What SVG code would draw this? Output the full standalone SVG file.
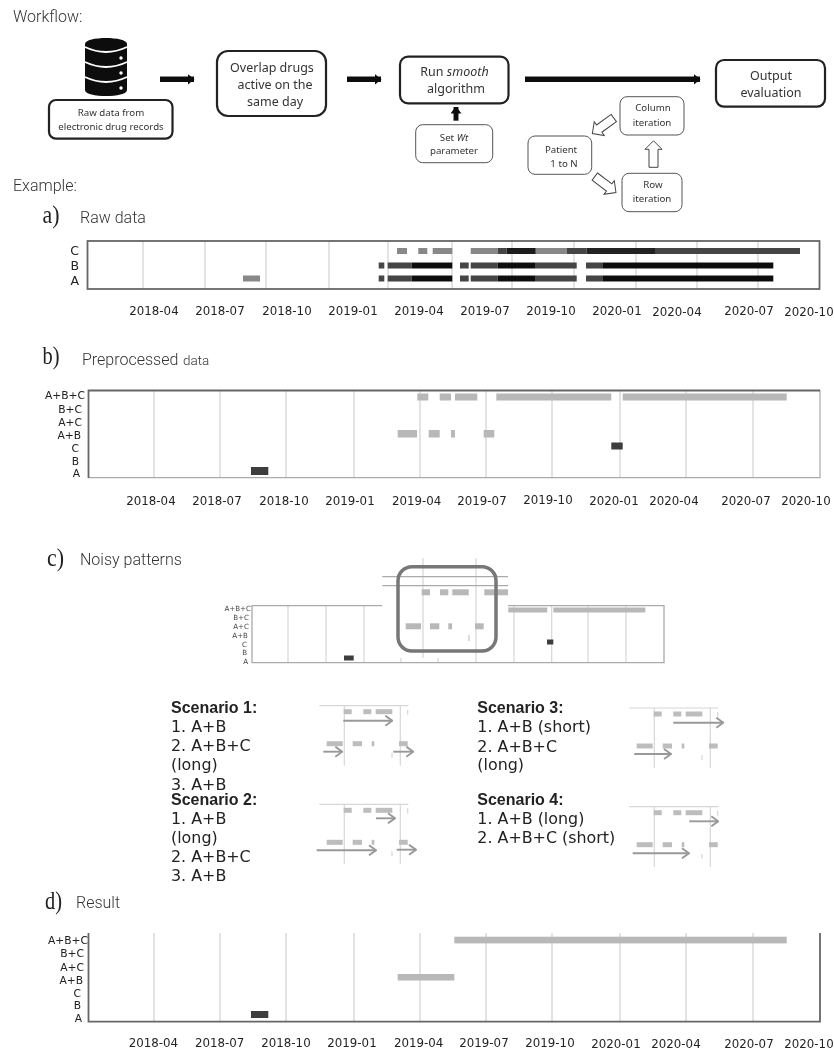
<svg xmlns="http://www.w3.org/2000/svg" xmlns:xlink="http://www.w3.org/1999/xlink" width="834" height="1050" viewBox="0 0 834 1050">
<style>
text{font-family:"DejaVu Sans",sans-serif;fill:#222}
.h{font-family:Roboto,"Liberation Sans",sans-serif;font-weight:300;font-size:16px;fill:#333}
.l{font-family:"Liberation Serif",serif;font-size:25px;fill:#222}
.n{font-family:"Noto Sans",sans-serif;text-anchor:middle;fill:#333}
.n13{font-size:12.5px}.n9{font-size:9.7px}
.box{fill:#fff;stroke:#222;stroke-width:2.2}
.sbox{fill:#fff;stroke:#555;stroke-width:1}
.ha{fill:#fff;stroke:#444;stroke-width:1}
.x{font-size:11.8px;text-anchor:middle}
.y{font-size:10.7px;text-anchor:end}
.ya{font-size:12.5px;text-anchor:end}
.ys{font-size:7.1px;text-anchor:end;fill:#444}
.g{stroke:#ddd;stroke-width:1.6;fill:none}
.gs{stroke:#d6d6d6;stroke-width:1.2;fill:none}
.lb{fill:#b8b8b8}.db{fill:#3c3c3c}
.s{font-size:15.9px}
.sb{font-family:"Liberation Sans",sans-serif;font-weight:700;font-size:16px;fill:#222}
.ma{fill:none;stroke:#999;stroke-width:1.9;marker-end:url(#chev)}
</style>
<defs>
<filter id="soft" x="0" y="0" width="100%" height="100%"><feGaussianBlur stdDeviation="0.6"/></filter>
<marker id="blk" viewBox="0 0 7 11" refX="6.5" refY="5.5" markerWidth="7" markerHeight="11" markerUnits="userSpaceOnUse" orient="auto"><path d="M0 0L7 5.5L0 11Z" fill="#111"/></marker>
<marker id="chev" viewBox="0 0 9 12" refX="8" refY="6" markerWidth="9" markerHeight="12" markerUnits="userSpaceOnUse" orient="auto"><path d="M1 1L8 6L1 11" fill="none" stroke="#999" stroke-width="1.9"/></marker>
<path id="hollow" d="M0 -4.5H18V-8.5L26.5 0L18 8.5V4.5H0Z"/>
<g id="mini">
<path class="gs" d="M0 0H89" stroke="#ccc"/>
<path class="gs" d="M25 0V60M81 0V60M88.4 4V9M72.7 47V52"/>
<g fill="#bdbdbd">
<rect x="24.4" y="3.5" width="8" height="5"/><rect x="44" y="3.5" width="8" height="5"/><rect x="56.4" y="3.5" width="16.6" height="5"/>
<rect x="7.4" y="35.5" width="16" height="5"/><rect x="33.4" y="35.5" width="9.3" height="5"/><rect x="52.4" y="35.5" width="2.6" height="5"/><rect x="79.7" y="35.5" width="8.7" height="5"/>
</g>
</g>
</defs>
<rect width="834" height="1050" fill="#fff"/>
<g filter="url(#soft)">
<text class="h" x="13" y="22">Workflow:</text>
<text class="h" x="13" y="191">Example:</text>

<g id="connectors">
<path d="M160 79.3H194" stroke="#111" stroke-width="5.5" fill="none" marker-end="url(#blk)"/>
<path d="M347 79.3H381" stroke="#111" stroke-width="5.5" fill="none" marker-end="url(#blk)"/>
<path d="M525 79.3H700" stroke="#111" stroke-width="5.5" fill="none" marker-end="url(#blk)"/>
<path d="M456 120.7V107" stroke="#111" stroke-width="5" fill="none" marker-end="url(#blk)"/>
<use href="#hollow" class="ha" transform="translate(653.5 167.3) rotate(-90)"/>
<use href="#hollow" class="ha" transform="translate(613.8 118) rotate(144)"/>
<use href="#hollow" class="ha" transform="translate(594.8 176.6) rotate(37)"/>
</g>

<g id="database">
<path d="M85 44C85 36 127 36 127 44V90C127 98 85 98 85 90Z" fill="#111"/>
<path d="M85 47Q106 57 127 47M85 62Q106 72 127 62M85 77Q106 87 127 77" fill="none" stroke="#fff" stroke-width="1.8"/>
<circle cx="121" cy="58" r="1.7" fill="#fff"/><circle cx="121" cy="73" r="1.7" fill="#fff"/><circle cx="121" cy="88" r="1.7" fill="#fff"/>
</g>
<g id="raw-data"><rect class="box" x="49" y="100" width="123.5" height="38.7" rx="7"/><text class="n n9" x="111" y="116">Raw data from</text><text class="n n9" x="111" y="129.5">electronic drug records</text></g>
<g id="overlap"><rect class="box" x="217" y="51" width="109" height="65" rx="11"/><text class="n n13" x="272" y="71.5">Overlap drugs</text><text class="n n13" x="275" y="88.5">active on the</text><text class="n n13" x="275" y="105.5">same day</text></g>
<g id="smooth"><rect class="box" x="400" y="56.7" width="108.5" height="46.6" rx="8"/><text class="n n13" x="454.5" y="76">Run <tspan font-style="italic">smooth</tspan></text><text class="n n13" x="456" y="93">algorithm</text></g>
<g id="wt"><rect class="sbox" x="415.7" y="124.7" width="77" height="38" rx="7"/><text class="n n9" x="454" y="141">Set <tspan font-style="italic">Wt</tspan></text><text class="n n9" x="454" y="154">parameter</text></g>
<g id="output"><rect class="box" x="716" y="60" width="109" height="46.7" rx="8"/><text class="n n13" x="771" y="80">Output</text><text class="n n13" x="771" y="97">evaluation</text></g>
<g id="column"><rect class="sbox" x="620" y="96.7" width="64" height="38.3" rx="7"/><text class="n n9" x="653" y="111">Column</text><text class="n n9" x="652" y="125.7">iteration</text></g>
<g id="patient"><rect class="sbox" x="528" y="136" width="63.7" height="38.3" rx="7"/><text class="n n9" x="561" y="152.5">Patient</text><text class="n n9" x="564" y="166.5">1 to N</text></g>
<g id="row"><rect class="sbox" x="622" y="173.3" width="60" height="38.4" rx="7"/><text class="n n9" x="653" y="188">Row</text><text class="n n9" x="652" y="201.7">iteration</text></g>

<g id="panel-a">
<text class="l" x="42.5" y="223" textLength="17" lengthAdjust="spacingAndGlyphs">a)</text><text class="h" x="80" y="222.7">Raw data</text>
<path class="g" d="M143 241V289M205 241V289M266 241V289M329 241V289M388 241V289M452 241V289M512 241V289M574 241V289M636 241V289M697 241V289M758 241V289"/>
<rect x="87.5" y="241" width="732" height="48" fill="none" stroke="#666" stroke-width="1.8"/>
<g fill="#888"><rect x="243" y="275.5" width="17" height="6"/><rect x="397" y="248" width="10" height="6"/><rect x="418.3" y="248" width="9" height="6"/><rect x="432.7" y="248" width="19.6" height="6"/><rect x="470.7" y="248" width="27" height="6"/><rect x="535.7" y="248" width="31" height="6"/></g>
<g fill="#444"><rect x="497.7" y="248" width="9" height="6"/><rect x="566.7" y="248" width="20" height="6"/><rect x="655" y="248" width="145" height="6"/></g>
<rect x="506.7" y="248" width="29" height="6" fill="#1e1e1e"/><rect x="586.7" y="248" width="68.3" height="6" fill="#222"/>
<g fill="#444"><rect x="378.7" y="262.5" width="5.6" height="6"/><rect x="387.7" y="262.5" width="24" height="6"/><rect x="460" y="262.5" width="8.7" height="6"/><rect x="470.7" y="262.5" width="27" height="6"/><rect x="535.7" y="262.5" width="41" height="6"/><rect x="586" y="262.5" width="16.3" height="6"/>
<rect x="378.7" y="275.5" width="5.6" height="6"/><rect x="387.7" y="275.5" width="24" height="6"/><rect x="460" y="275.5" width="8.7" height="6"/><rect x="470.7" y="275.5" width="27" height="6"/><rect x="535.7" y="275.5" width="41" height="6"/><rect x="586" y="275.5" width="16.3" height="6"/></g>
<g fill="#111"><rect x="411.7" y="262.5" width="40.6" height="6"/><rect x="497.7" y="262.5" width="38" height="6"/><rect x="602.3" y="262.5" width="171" height="6"/>
<rect x="411.7" y="275.5" width="40.6" height="6"/><rect x="497.7" y="275.5" width="38" height="6"/><rect x="602.3" y="275.5" width="171" height="6"/></g>
<text class="ya" x="79" y="255.3">C</text><text class="ya" x="79" y="270.3">B</text><text class="ya" x="79" y="285.3">A</text>
<text class="x" x="154" y="315">2018-04</text><text class="x" x="220" y="315">2018-07</text><text class="x" x="287" y="315">2018-10</text><text class="x" x="353" y="315">2019-01</text><text class="x" x="419" y="315">2019-04</text><text class="x" x="485" y="315">2019-07</text><text class="x" x="551" y="315">2019-10</text><text class="x" x="617" y="315">2020-01</text><text class="x" x="677" y="316">2020-04</text><text class="x" x="749" y="315">2020-07</text><text class="x" x="809" y="316">2020-10</text>
</g>

<g id="panel-b">
<text class="l" x="42.5" y="364" textLength="17" lengthAdjust="spacingAndGlyphs">b)</text><text class="h" x="82" y="365">Preprocessed</text><text class="h" x="183" y="365" font-size="13.5" style="font-size:13.5px">data</text>
<path class="g" d="M154 391V477M220 391V477M286 391V477M354 391V477M420 391V477M486 391V477M552 391V477M620 391V477M686 391V477M753 391V477"/>
<path d="M88 477.7H820V390" fill="none" stroke="#aaa" stroke-width="1.2"/>
<path d="M88.5 478V390.5H820" fill="none" stroke="#666" stroke-width="1.8"/>
<g class="lb"><rect x="417.3" y="393.5" width="11" height="7"/><rect x="439.7" y="393.5" width="11.3" height="7"/><rect x="455" y="393.5" width="22.3" height="7"/><rect x="496.3" y="393.5" width="115" height="7"/><rect x="622.7" y="393.5" width="164" height="7"/><rect x="397.7" y="430" width="19.3" height="7.5"/><rect x="428.7" y="430" width="11" height="7.5"/><rect x="451" y="430" width="4" height="7.5"/><rect x="483.7" y="430" width="10.6" height="7.5"/></g>
<g class="db"><rect x="611.3" y="442.5" width="11.4" height="7"/><rect x="251" y="467" width="17.3" height="8"/></g>
<text class="y" x="85" y="399">A+B+C</text><text class="y" x="82" y="412.6">B+C</text><text class="y" x="82" y="425.6">A+C</text><text class="y" x="81" y="438.6">A+B</text><text class="y" x="79" y="452">C</text><text class="y" x="79" y="464.6">B</text><text class="y" x="80" y="477">A</text>
<text class="x" x="151" y="504.5">2018-04</text><text class="x" x="217" y="504.5">2018-07</text><text class="x" x="284" y="504.5">2018-10</text><text class="x" x="350" y="504.5">2019-01</text><text class="x" x="416.7" y="504.5">2019-04</text><text class="x" x="482" y="504.5">2019-07</text><text class="x" x="548" y="504">2019-10</text><text class="x" x="614" y="505">2020-01</text><text class="x" x="674" y="505">2020-04</text><text class="x" x="746" y="505">2020-07</text><text class="x" x="806" y="505">2020-10</text>
</g>

<g id="panel-c">
<text class="l" x="47" y="566" textLength="17" lengthAdjust="spacingAndGlyphs">c)</text><text class="h" x="80" y="565">Noisy patterns</text>
<path class="gs" d="M288 606V662M326 606V662M364 606V662M401 658V662M423 558V658M438 658V662M476 558V662M514 606V662M551.7 606V662M588 606V662M626 606V662"/>
<path d="M382.3 605.7H252V662.7H664V605.7H508M382.3 576.7H508M382.3 585.7H508" fill="none" stroke="#aaa" stroke-width="1.3"/>
<g class="lb"><rect x="421.7" y="589.3" width="8.3" height="6"/><rect x="440" y="589.3" width="8.3" height="6"/><rect x="452.3" y="589.3" width="16.4" height="6"/><rect x="484.3" y="589.3" width="23.7" height="6"/><rect x="508.3" y="607.5" width="39" height="5"/><rect x="553.3" y="607.5" width="92" height="5"/><rect x="405.7" y="623.3" width="15.3" height="6"/><rect x="430" y="623.3" width="9.3" height="6"/><rect x="448.3" y="623.3" width="3.7" height="6"/><rect x="475" y="623.3" width="8.7" height="6"/><rect x="468.5" y="635" width="1" height="6"/></g>
<g class="db"><rect x="547" y="639.5" width="6.3" height="5"/><rect x="344" y="655.5" width="9.7" height="5"/></g>
<rect x="398" y="566.7" width="98" height="84.3" rx="14" fill="none" stroke="#777" stroke-width="3.5"/>
<text class="ys" x="251" y="610.8">A+B+C</text><text class="ys" x="249" y="620">B+C</text><text class="ys" x="249" y="629">A+C</text><text class="ys" x="248" y="637.5">A+B</text><text class="ys" x="247" y="646.5">C</text><text class="ys" x="247" y="654.5">B</text><text class="ys" x="248" y="663.5">A</text>
</g>

<g id="scenarios">
<text class="sb" x="171" y="712.7">Scenario 1:</text><text class="s" x="171" y="732">1. A+B</text><text class="s" x="171" y="751">2. A+B+C</text><text class="s" x="171" y="770">(long)</text><text class="s" x="171" y="789.5">3. A+B</text>
<text class="sb" x="171" y="805">Scenario 2:</text><text class="s" x="171" y="824">1. A+B</text><text class="s" x="171" y="843">(long)</text><text class="s" x="171" y="862">2. A+B+C</text><text class="s" x="171" y="881">3. A+B</text>
<text class="sb" x="477.3" y="713">Scenario 3:</text><text class="s" x="477.3" y="732">1. A+B (short)</text><text class="s" x="477.3" y="751.5">2. A+B+C</text><text class="s" x="477.3" y="770">(long)</text>
<text class="sb" x="477.3" y="804.5">Scenario 4:</text><text class="s" x="477.3" y="824">1. A+B (long)</text><text class="s" x="477.3" y="843">2. A+B+C (short)</text>
<use href="#mini" x="319.3" y="705.7"/><use href="#mini" x="319.3" y="804.3"/><use href="#mini" x="629.3" y="708"/><use href="#mini" x="629.3" y="806.7"/>
<path class="ma" d="M343.3 720.7H392.3"/><path class="ma" d="M323.3 751.7H342.3"/><path class="ma" d="M393.3 751.7H413.3"/>
<path class="ma" d="M376 818.3H395"/><path class="ma" d="M316.7 850.3H376"/><path class="ma" d="M396.7 849.7H416"/>
<path class="ma" d="M673.3 722.7H723.3"/><path class="ma" d="M634.3 754H671"/>
<path class="ma" d="M689.3 821.3H718.3"/><path class="ma" d="M632.7 853.3H689"/>
</g>

<g id="panel-d">
<text class="l" x="45" y="909" textLength="17" lengthAdjust="spacingAndGlyphs">d)</text><text class="h" x="76" y="908">Result</text>
<path class="g" d="M154 933V1021M220 933V1021M286 933V1021M354 933V1021M420 933V1021M486 933V1021M552 933V1021M620 933V1021M686 933V1021M753 933V1021"/>
<path d="M88.5 933V1021.7H820V933" fill="none" stroke="#666" stroke-width="1.8"/>
<g class="lb"><rect x="397.7" y="974" width="56.6" height="6.5"/><rect x="454.3" y="936.7" width="332.4" height="6.7"/></g>
<rect class="db" x="251" y="1011" width="17.3" height="7"/>
<text class="y" x="88" y="944">A+B+C</text><text class="y" x="84" y="957.3">B+C</text><text class="y" x="84" y="970.6">A+C</text><text class="y" x="83" y="984">A+B</text><text class="y" x="81" y="996.6">C</text><text class="y" x="81" y="1009">B</text><text class="y" x="82" y="1021.5">A</text>
<text class="x" x="153.3" y="1047">2018-04</text><text class="x" x="219.7" y="1047">2018-07</text><text class="x" x="286" y="1047">2018-10</text><text class="x" x="352" y="1047">2019-01</text><text class="x" x="418.7" y="1047">2019-04</text><text class="x" x="484" y="1047">2019-07</text><text class="x" x="550" y="1047">2019-10</text><text class="x" x="616" y="1048">2020-01</text><text class="x" x="676" y="1048">2020-04</text><text class="x" x="749" y="1048">2020-07</text><text class="x" x="809" y="1048">2020-10</text>
</g>
</g>
</svg>
